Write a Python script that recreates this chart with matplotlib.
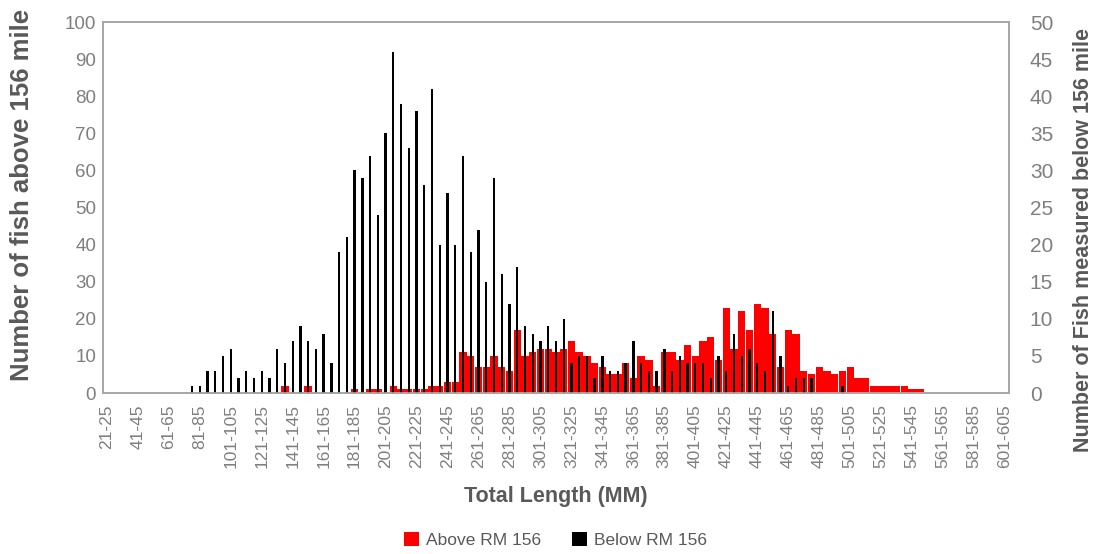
import matplotlib
matplotlib.use("Agg")
import matplotlib.pyplot as plt
from matplotlib import font_manager
from matplotlib.patches import Patch
import numpy as np

# Length classes (5 mm bins from 21-25 to 601-605)
bin_starts = list(range(21, 606, 5))
categories = [f"{s}-{s + 4}" for s in bin_starts]

# Number of fish above RM 156 (left axis)
above_rm156 = [
    0, 0, 0, 0, 0, 0, 0, 0, 0, 0,
    0, 0, 0, 0, 0, 0, 0, 0, 0, 0,
    0, 0, 0, 2, 0, 0, 2, 0, 0, 0,
    0, 0, 1, 0, 1, 1, 0, 2, 1, 1,
    1, 1, 2, 2, 3, 3, 11, 10, 7, 7,
    10, 7, 6, 17, 10, 11, 12, 12, 11, 12,
    14, 11, 10, 8, 7, 5, 5, 8, 4, 10,
    9, 2, 11, 11, 9, 13, 10, 14, 15, 9,
    23, 12, 22, 17, 24, 23, 16, 7, 17, 16,
    6, 5, 7, 6, 5, 6, 7, 4, 4, 2,
    2, 2, 2, 2, 1, 1, 0, 0, 0, 0,
    0, 0, 0, 0, 0, 0, 0,
]

# Number of fish measured below RM 156 (right axis)
below_rm156 = [
    0, 0, 0, 0, 0, 0, 0, 0, 0, 0,
    0, 1, 1, 3, 3, 5, 6, 2, 3, 2,
    3, 2, 6, 4, 7, 9, 7, 6, 8, 4,
    19, 21, 30, 29, 32, 24, 35, 46, 39, 33,
    38, 28, 41, 20, 27, 20, 32, 19, 22, 15,
    29, 16, 12, 17, 9, 8, 7, 9, 7, 10,
    4, 5, 5, 2, 5, 3, 3, 4, 7, 4,
    3, 3, 6, 3, 5, 4, 4, 4, 2, 5,
    3, 8, 5, 6, 4, 3, 11, 5, 1, 2,
    2, 2, 0, 0, 0, 1, 0, 0, 0, 0,
    0, 0, 0, 0, 0, 0, 0, 0, 0, 0,
    0, 0, 0, 0, 0, 0, 0,
]

left_ticks = list(range(0, 101, 10))
right_ticks = list(range(0, 51, 5))

plt.rcParams['font.family'] = ['Liberation Sans', 'DejaVu Sans']

installed = {f.name for f in font_manager.fontManager.ttflist}
if 'Liberation Sans Narrow' in installed:
    TICK_FAMILY = 'Liberation Sans Narrow'
    xt_size, lt_size, rt_size = 15, 15.5, 16.5
else:
    TICK_FAMILY = 'Liberation Sans'
    xt_size, lt_size, rt_size = 12.5, 13.5, 15

RED = '#FF0000'
BLACK = '#000000'
TICK_GRAY = '#7F7F7F'
TITLE_GRAY = '#595959'
SPINE_GRAY = '#A6A6A6'

fig = plt.figure(figsize=(11.0, 5.54), dpi=100)
ax = fig.add_axes([0.0936, 0.2906, 0.8236, 0.6694])
ax2 = ax.twinx()

x = np.arange(len(categories))
ax.bar(x, above_rm156, width=0.95, color=RED, linewidth=0)
ax2.bar(x, below_rm156, width=0.3, color=BLACK, linewidth=0)

ax.set_xlim(-0.5, len(categories) - 0.5)
ax.set_ylim(0, 100)
ax2.set_ylim(0, 50)
ax.set_yticks(left_ticks)
ax2.set_yticks(right_ticks)

shown = list(range(0, len(categories), 4))
ax.set_xticks(shown)
ax.set_xticklabels([categories[i] for i in shown], rotation=90,
                   fontsize=xt_size, color=TICK_GRAY, family=TICK_FAMILY)
ax.tick_params(axis='x', length=0, pad=8)
ax.tick_params(axis='y', length=0, pad=5, labelcolor=TICK_GRAY)
ax2.tick_params(axis='y', length=0, pad=15, labelcolor=TICK_GRAY)
for lab in ax.get_yticklabels():
    lab.set_family(TICK_FAMILY)
    lab.set_fontsize(lt_size)
for lab in ax2.get_yticklabels():
    lab.set_family(TICK_FAMILY)
    lab.set_fontsize(rt_size)

for a in (ax, ax2):
    for s in a.spines.values():
        s.set_color(SPINE_GRAY)
        s.set_linewidth(1.2)

fig.text(0.505, 0.103, 'Total Length (MM)', ha='center', va='center',
         fontsize=15.5, fontweight='bold', color=TITLE_GRAY)
fig.text(0.02, 0.648, 'Number of fish above 156 mile', ha='center', va='center',
         rotation=90, fontsize=18.5, fontweight='bold', color=TITLE_GRAY)
fig.text(0.985, 0.567, 'Number of Fish measured below 156 mile', ha='center',
         va='center', rotation=90, fontsize=15.5, fontweight='bold', color=TITLE_GRAY)

handles = [Patch(facecolor=RED, edgecolor='none', label='Above RM 156'),
           Patch(facecolor=BLACK, edgecolor='none', label='Below RM 156')]
leg = fig.legend(handles=handles, loc='center', bbox_to_anchor=(0.505, 0.025),
                 ncol=2, frameon=False, fontsize=12.5, handlelength=0.85,
                 handleheight=0.85, handletextpad=0.4, columnspacing=1.8)
for t in leg.get_texts():
    t.set_color(TITLE_GRAY)

fig.savefig('out.png', dpi=100)
